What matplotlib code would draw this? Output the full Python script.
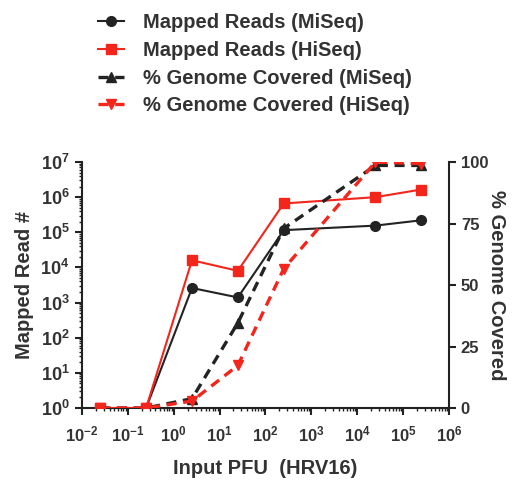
import numpy as np
import matplotlib
matplotlib.use("Agg")
from matplotlib import pyplot as plt
from matplotlib.ticker import LogLocator, FuncFormatter, NullFormatter

plt.rcParams['font.family'] = ['Liberation Sans', 'DejaVu Sans']
plt.rcParams['font.weight'] = 'bold'
plt.rcParams['mathtext.fontset'] = 'custom'
plt.rcParams['mathtext.rm'] = 'Liberation Sans:bold'
plt.rcParams['mathtext.bf'] = 'Liberation Sans:bold'

# 输入 PFU
input_pfu = [0.025, 0.25, 2.5, 25, 250, 25000, 250000]
# 比对读数
reads_miseq = [1, 1, 2600, 1400, 115000, 155000, 220000]
reads_hiseq = [1, 1, 16000, 8000, 660000, 1000000, 1650000]
# 基因组覆盖百分比
cov_miseq = [0, 0, 3.8, 34.6, 73, 98.6, 98.6]
cov_hiseq = [0, 0, 2.8, 17.3, 56.6, 100, 99.3]

red = '#f4251b'
black = '#232323'

fig = plt.figure(figsize=(5.14, 4.82), dpi=100)
ax = fig.add_axes([0.1595, 0.1535, 0.714, 0.5104])
ax2 = ax.twinx()

l1, = ax.plot(input_pfu, reads_miseq, color=black, lw=1.5, marker='o', ms=7,
              label='Mapped Reads (MiSeq)', zorder=3)
l2, = ax.plot(input_pfu, reads_hiseq, color=red, lw=1.5, marker='s', ms=6.5,
              label='Mapped Reads (HiSeq)', zorder=4)
l3, = ax2.plot(input_pfu, cov_miseq, color=black, lw=2.4, ls=(0, (3, 2)), marker='^', ms=6.5,
               label='% Genome Covered (MiSeq)')
l4, = ax2.plot(input_pfu, cov_hiseq, color=red, lw=2.4, ls=(0, (3, 2)), marker='v', ms=6.5,
               label='% Genome Covered (HiSeq)')

ax.set_xscale('log')
ax.set_yscale('log')
ax.set_xlim(1e-2, 1e6)
ax.set_ylim(1, 1e7)
ax2.set_ylim(0, 100)
ax2.set_yticks([0, 25, 50, 75, 100])

fmt = FuncFormatter(lambda v, p: r'$\mathbf{10^{%d}}$' % round(np.log10(v)))
ax.xaxis.set_major_locator(LogLocator(base=10, numticks=20))
ax.xaxis.set_minor_locator(LogLocator(base=10, subs=np.arange(2, 10), numticks=20))
ax.yaxis.set_major_locator(LogLocator(base=10, numticks=20))
ax.yaxis.set_minor_locator(LogLocator(base=10, subs=np.arange(2, 10), numticks=20))
ax.xaxis.set_major_formatter(fmt)
ax.yaxis.set_major_formatter(fmt)
ax.xaxis.set_minor_formatter(NullFormatter())
ax.yaxis.set_minor_formatter(NullFormatter())

for a in (ax, ax2):
    a.spines['top'].set_visible(False)
    for s in a.spines.values():
        s.set_linewidth(1.5)
        s.set_color('#222222')
    a.tick_params(which='major', length=5, width=1.5, colors='#222222', labelsize=12)
    a.tick_params(which='minor', length=2.5, width=1.0, colors='#222222')
ax.spines['right'].set_visible(False)
ax2.spines['left'].set_visible(False)
ax2.spines['bottom'].set_visible(False)
ax.tick_params(axis='x', labelsize=12, pad=7, labelcolor='#333333')
ax.tick_params(axis='y', labelsize=13, pad=4, labelcolor='#333333')
ax2.tick_params(axis='y', labelcolor='#333333')

ax.set_xlabel('Input PFU  (HRV16)', fontsize=14.5, fontweight='bold', color='#333333')
ax.xaxis.set_label_coords(0.5, -0.207)
ax.set_ylabel('Mapped Read #', fontsize=14.5, fontweight='bold', color='#333333')
ax.yaxis.set_label_coords(-0.131, 0.5)
ax2.set_ylabel('% Genome Covered', fontsize=14.5, fontweight='bold', color='#333333',
               rotation=270, va='bottom')
ax2.yaxis.set_label_coords(1.103, 0.5)

fig.legend(handles=[l1, l2, l3, l4], loc='upper left', bbox_to_anchor=(0.156, 1.0104),
           frameon=False, fontsize=14.5, handlelength=1.3, handletextpad=0.9,
           labelspacing=0.435, labelcolor='#333333')

fig.savefig('out.png', dpi=100)
